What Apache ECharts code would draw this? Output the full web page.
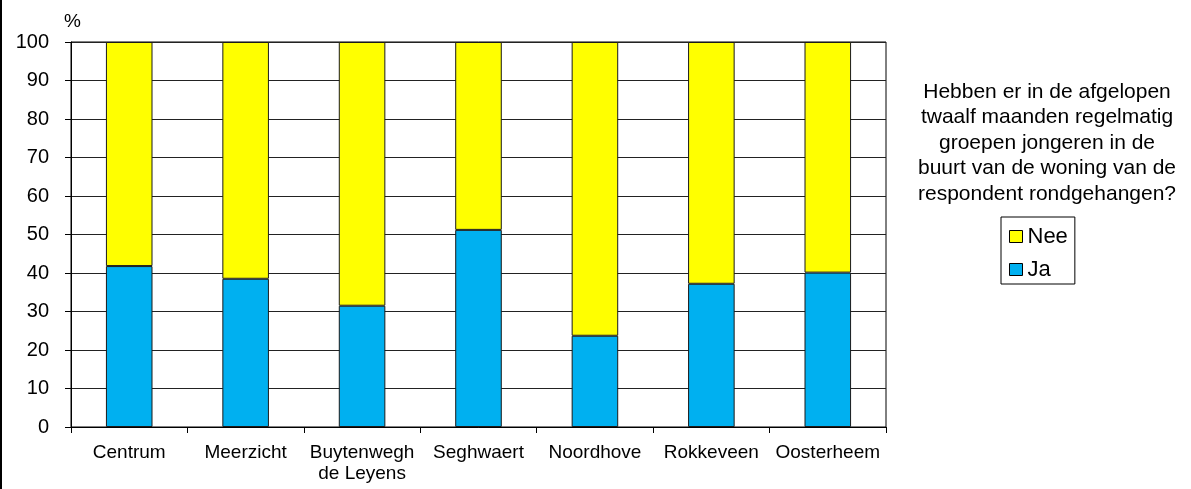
<!DOCTYPE html>
<html>
<head>
<meta charset="utf-8">
<script src="https://cdn.jsdelivr.net/npm/echarts@6/dist/echarts.min.js"></script>
<style>
html,body{margin:0;padding:0;background:#fff;}
#chart{width:1191px;height:489px;}
</style>
</head>
<body>
<div id="chart"></div>
<script>
const categories = ['Centrum', 'Meerzicht', 'Buytenwegh\nde Leyens', 'Seghwaert', 'Noordhove', 'Rokkeveen', 'Oosterheem'];
const jaValues = [41.8, 38.5, 31.5, 51.2, 23.7, 37.2, 40.1];
const neeValues = jaValues.map(v => +(100 - v).toFixed(1));
const yTicks = [0, 10, 20, 30, 40, 50, 60, 70, 80, 90, 100];
const titleLines = ['Hebben er in de afgelopen', 'twaalf maanden regelmatig', 'groepen jongeren in de', 'buurt van de woning van de', 'respondent rondgehangen?'];

const font = 'Liberation Sans, Arial, sans-serif';
const chart = echarts.init(document.getElementById('chart'));
chart.setOption({
  animation: false,
  backgroundColor: '#fff',
  textStyle: { fontFamily: font, color: '#000' },
  title: {
    text: titleLines.join('\n'),
    left: 1042, top: 74, textAlign: 'center',
    textStyle: { fontFamily: font, fontSize: 21, fontWeight: 'normal', color: '#000', lineHeight: 25.5 }
  },
  legend: {
    data: ['Nee', 'Ja'],
    orient: 'vertical',
    left: 1001, top: 217,
    itemWidth: 13, itemHeight: 12, itemGap: 10,
    padding: [8, 7, 3, 8],
    borderColor: '#000', borderWidth: 1,
    icon: 'rect',
    itemStyle: { borderColor: '#000', borderWidth: 1 },
    textStyle: { fontFamily: font, fontSize: 22, color: '#000', lineHeight: 23 }
  },
  graphic: [
    { type: 'rect', shape: { x: 0, y: 0, width: 2, height: 489 }, style: { fill: '#000' } },
    { type: 'text', left: 64, top: 12, style: { text: '%', font: '19px ' + font, fill: '#000' } }
  ],
  grid: { left: 71, right: 305, top: 42, bottom: 62, show: true, borderColor: '#000', borderWidth: 1 },
  xAxis: {
    type: 'category',
    data: categories,
    axisLine: { lineStyle: { color: '#000', width: 1 } },
    axisTick: { show: true, length: 6, lineStyle: { color: '#000' } },
    axisLabel: { interval: 0, color: '#000', fontSize: 19, fontFamily: font, margin: 15, lineHeight: 21 }
  },
  yAxis: {
    type: 'value',
    min: 0, max: 100, interval: 10,
    axisLine: { show: true, lineStyle: { color: '#000', width: 1 } },
    axisTick: { show: true, length: 6, lineStyle: { color: '#000' } },
    axisLabel: { color: '#000', fontSize: 20, fontFamily: font, margin: 22,
      formatter: v => yTicks.includes(v) ? String(v) : '' },
    splitLine: { show: true, lineStyle: { color: '#222', width: 1 } }
  },
  series: [
    { name: 'Ja', type: 'bar', stack: 's', data: jaValues, barWidth: '40%',
      itemStyle: { color: '#00B0F0', borderColor: '#1a1a1a', borderWidth: 1 } },
    { name: 'Nee', type: 'bar', stack: 's', data: neeValues, barWidth: '40%',
      itemStyle: { color: '#FFFF00', borderColor: '#1a1a1a', borderWidth: 1 } }
  ]
});
</script>
</body>
</html>
